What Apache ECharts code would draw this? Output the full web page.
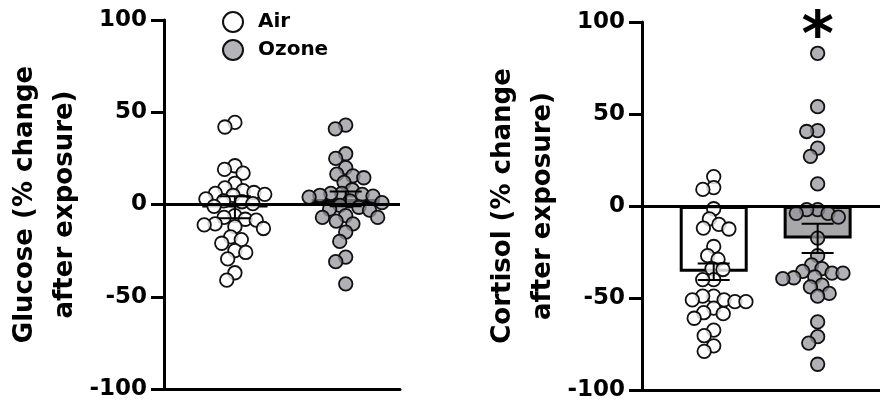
<!DOCTYPE html>
<html>
<head>
<meta charset="utf-8">
<script src="https://cdn.jsdelivr.net/npm/echarts@6/dist/echarts.min.js"></script>
<style>
  html, body { margin: 0; padding: 0; background: #fff; }
  #chart { width: 880px; height: 404px; }
</style>
</head>
<body>
<div id="chart"></div>
<script>
// values (% change after exposure)
const groups = ['Air', 'Ozone'];
const glucoseAir = [44.5, 42, 21, 19, 17, 11.5, 9, 7.5, 6.5, 6, 5.5, 5, 3, 2, 1.5, 0.5, -1, -6, -7, -8.5, -8, -10.5, -11, -12, -13, -17.5, -19, -21, -25, -26, -29.5, -37, -41];
const glucoseOzone = [43, 41, 27.5, 25, 20, 16.5, 15.5, 14.5, 12, 8, 6, 6, 5, 4, 5.5, 4.5, 1, 2, -0.5, -1.5, -2.5, -3, -6, -7, -7, -9, -10.5, -15, -20, -28.5, -31, -43];
const cortisolAir = [16, 10, 9, -1.5, -7, -12.5, -12, -10, -22, -27, -29, -34.5, -34, -40, -40, -49, -49, -52, -51, -52, -51, -55.5, -58, -58.5, -61, -67.5, -70.5, -76, -79];
const cortisolOzone = [83, 54, 40.5, 41, 31.5, 27, 12, -2, -4, -6, -4, -2, -17.5, -27, -32, -34, -36.5, -39, -39.5, -38.5, -35.5, -36.5, -43, -49, -47.5, -44, -63, -71, -74.5, -86];
const glucoseMean = [-1.5, 3];
const glucoseErr = [6, 4];
const cortisolMean = [-35.7, -17.6];
const cortisolErr = [4.5, 8];
const yTicks = { min: -100, max: 100, interval: 50 };

const FONT = 'DejaVu Sans';
const grids = [
  { left: 164, top: 20, width: 236, height: 369, xmin: -0.64, xmax: 1.49 },
  { left: 642, top: 22, width: 238, height: 368, xmin: -0.69, xmax: 1.6 }
];

// simple beeswarm: spread the dots sideways so they only overlap a bit
function swarm(values, cx, g, d) {
  var kx = g.width / (g.xmax - g.xmin);
  var ky = g.height / (yTicks.max - yTicks.min);
  var placed = [];
  values.slice().sort(function (a, b) { return b - a; }).forEach(function (v) {
    var y = v * ky;
    var near = placed.filter(function (p) { return Math.abs(p[1] - y) < d; });
    var cands = [0];
    near.forEach(function (p) {
      var w = Math.sqrt(d * d - (p[1] - y) * (p[1] - y));
      cands.push(p[0] - w, p[0] + w);
    });
    cands.sort(function (a, b) { return Math.abs(a) - Math.abs(b); });
    var x = cands.find(function (c) {
      return near.every(function (p) { return (p[0] - c) * (p[0] - c) + (p[1] - y) * (p[1] - y) >= d * d - 0.01; });
    });
    placed.push([x, y]);
  });
  return placed.map(function (p) { return [cx + p[0] / kx, p[1] / ky]; });
}

var airDot = { color: 'rgba(255,255,255,0.8)', borderColor: '#111', borderWidth: 1.8, opacity: 1 };
var ozoneDot = { color: 'rgba(150,150,156,0.75)', borderColor: '#111', borderWidth: 1.8, opacity: 1 };
var barFill = ['#ffffff', '#a8a8aa'];

function panelSeries(idx, air, ozone, mean, err) {
  var g = grids[idx];
  var list = [];
  list.push({
    type: 'bar', name: 'mean' + idx, xAxisIndex: idx, yAxisIndex: idx,
    barWidth: 68, z: 2,
    data: mean.map(function (m, i) {
      return { value: [i, m], itemStyle: { color: barFill[i], borderColor: '#000', borderWidth: 3 } };
    }),
    markLine: {
      silent: true, symbol: 'none', label: { show: false },
      lineStyle: { color: '#000', width: 3, type: 'solid' },
      data: [{ yAxis: 0 }]
    }
  });
  list.push({
    type: 'scatter', name: 'Air', xAxisIndex: idx, yAxisIndex: idx, z: 3,
    symbolSize: 13.5, itemStyle: airDot, data: swarm(air, 0, g, 11)
  });
  list.push({
    type: 'scatter', name: 'Ozone', xAxisIndex: idx, yAxisIndex: idx, z: 3,
    symbolSize: 13.5, itemStyle: ozoneDot, data: swarm(ozone, 1, g, 11)
  });
  list.push({
    type: 'custom', name: 'sem' + idx, xAxisIndex: idx, yAxisIndex: idx, z: 4,
    data: mean.map(function (m, i) { return [i, m, err[i]]; }),
    renderItem: function (params, api) {
      var lo = api.coord([api.value(0), api.value(1) - api.value(2)]);
      var hi = api.coord([api.value(0), api.value(1) + api.value(2)]);
      var st = { stroke: '#000', lineWidth: 2 };
      return {
        type: 'group',
        children: [
          { type: 'line', shape: { x1: lo[0], y1: lo[1], x2: hi[0], y2: hi[1] }, style: st },
          { type: 'line', shape: { x1: lo[0] - 16, y1: lo[1], x2: lo[0] + 16, y2: lo[1] }, style: st },
          { type: 'line', shape: { x1: hi[0] - 16, y1: hi[1], x2: hi[0] + 16, y2: hi[1] }, style: st }
        ]
      };
    }
  });
  return list;
}

var chart = echarts.init(document.getElementById('chart'));
var series = panelSeries(0, glucoseAir, glucoseOzone, glucoseMean, glucoseErr)
  .concat(panelSeries(1, cortisolAir, cortisolOzone, cortisolMean, cortisolErr));
// significance mark above ozone cortisol
series.push({
  type: 'scatter', name: 'sig', xAxisIndex: 1, yAxisIndex: 1, z: 5,
  symbolSize: 0, silent: true, itemStyle: { opacity: 1 },
  data: [[1, 91]],
  label: { show: true, position: 'inside', formatter: '*', color: '#000', fontFamily: FONT, fontWeight: 'bold', fontSize: 62 }
});

function yAxisFor(idx, name) {
  return {
    type: 'value', gridIndex: idx, min: yTicks.min, max: yTicks.max, interval: yTicks.interval,
    position: 'left',
    name: name, nameLocation: 'middle', nameGap: 75,
    nameTextStyle: { fontFamily: FONT, fontWeight: 'bold', fontSize: 26, lineHeight: 40, color: '#000' },
    axisLine: { show: true, onZero: false, lineStyle: { color: '#000', width: 3 } },
    axisTick: { show: true, length: 13, lineStyle: { color: '#000', width: 3 } },
    axisLabel: { margin: 17, fontFamily: FONT, fontWeight: 'bold', fontSize: 23, color: '#000' },
    splitLine: { show: false }
  };
}
function xAxisFor(idx) {
  var g = grids[idx];
  return {
    type: 'value', gridIndex: idx, min: g.xmin, max: g.xmax, position: 'bottom',
    axisLine: { show: true, onZero: false, lineStyle: { color: '#000', width: 3 } },
    axisTick: { show: false }, axisLabel: { show: false }, splitLine: { show: false }
  };
}

var option = {
  animation: false,
  grid: grids.map(function (g) { return { left: g.left, top: g.top, width: g.width, height: g.height }; }),
  legend: {
    left: 217, top: 6, orient: 'vertical', icon: 'circle',
    itemWidth: 20, itemHeight: 20, itemGap: 6,
    textStyle: { fontFamily: FONT, fontWeight: 'bold', fontSize: 20, color: '#000', padding: [0, 0, 0, 10] },
    data: [
      { name: groups[0], itemStyle: { color: '#fff', borderColor: '#111', borderWidth: 2, opacity: 1 } },
      { name: groups[1], itemStyle: { color: '#b3b3b8', borderColor: '#111', borderWidth: 2, opacity: 1 } }
    ]
  },
  xAxis: [xAxisFor(0), xAxisFor(1)],
  yAxis: [
    yAxisFor(0, 'Glucose (% change\nafter exposure)'),
    yAxisFor(1, 'Cortisol (% change\nafter exposure)')
  ],
  series: series
};
chart.setOption(option);
</script>
</body>
</html>
